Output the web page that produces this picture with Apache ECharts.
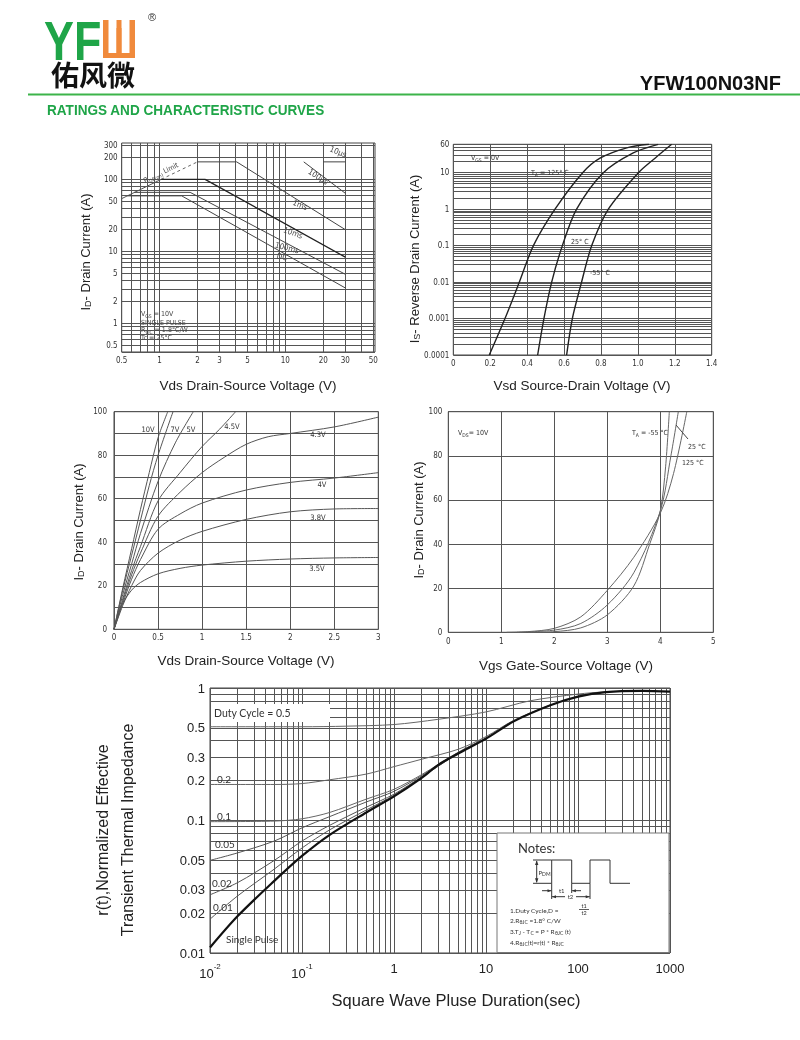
<!DOCTYPE html>
<html>
<head>
<meta charset="utf-8">
<title>YFW100N03NF Ratings and Characteristic Curves</title>
<script src="https://cdn.jsdelivr.net/npm/echarts@6/dist/echarts.min.js"></script>
<style>
html,body{margin:0;padding:0;background:#fff;}
#chart{width:800px;height:1040px;will-change:transform;}
</style>
</head>
<body>
<div id="chart"></div>
<script>
// ===== Chart 1: Safe operating area (Vds [V], Id [A]) =====
const soaXTicks = [0.5,0.6,0.7,0.8,0.9,1,2,3,4,5,6,7,8,9,10,20,30,40,50];
const soaXLabels = [0.5,1,2,3,5,10,20,30,50];
const soaYTicks = [0.4,0.5,0.6,0.7,0.8,0.9,1,2,3,4,5,6,7,8,9,10,20,30,40,50,60,70,80,90,100,200,300];
const soaYLabels = [0.5,1,2,5,10,20,50,100,200,300];
const soaRdsSolid = [[0.5,54],[1.03,100]];
const soaRdsDash  = [[1.03,100],[2,175]];
const soaDC    = [[0.555,59],[1.5,59],[30,3.1]];
const soa100ms = [[0.63,66],[1.75,66],[30,4.8]];
const soa10ms  = [[1.03,100],[2.3,100],[30,8.3]];
const soa1ms   = [[2,175],[4.1,175],[30,20]];
const soa100us = [[14,175],[30,64]];
const soa10us  = [[20,175],[30,175]];

// ===== Chart 2: Reverse drain current vs Vsd (V, A) =====
const isYTicks = [0.0001,0.0002,0.0003,0.0004,0.0005,0.0006,0.0007,0.0008,0.0009,
  0.001,0.002,0.003,0.004,0.005,0.006,0.007,0.008,0.009,
  0.01,0.02,0.03,0.04,0.05,0.06,0.07,0.08,0.09,
  0.1,0.2,0.3,0.4,0.5,0.6,0.7,0.8,0.9,
  1,2,3,4,5,6,7,8,9,10,20,30,40,50,60];
const isYLabels = [0.0001,0.001,0.01,0.1,1,10,60];
const is125 = [[0.195,0.0001],[0.28,0.001],[0.358,0.01],[0.434,0.1],[0.551,1],[0.701,10],[0.795,25],[0.94,48],[1.06,60]];
const is25  = [[0.457,0.0001],[0.491,0.001],[0.533,0.01],[0.591,0.1],[0.668,1],[0.813,10],[0.975,35],[1.11,60]];
const isM55 = [[0.614,0.0001],[0.645,0.001],[0.695,0.01],[0.75,0.1],[0.84,1],[1.003,10],[1.093,25],[1.183,60]];

// ===== Chart 3: Output characteristics (Vds V, Id A) per Vgs =====
const out10V  = [[0,0],[0.1,19],[0.2,37],[0.3,55],[0.4,72],[0.5,88],[0.61,100]];
const out7V   = [[0,0],[0.1,18],[0.2,34],[0.3,50],[0.4,66],[0.5,80],[0.67,100]];
const out5V   = [[0,0],[0.1,16],[0.2,30],[0.3,44],[0.5,68],[0.7,86],[0.9,100]];
const out45V  = [[0,0],[0.1,14],[0.2,27],[0.3,38],[0.5,59],[0.75,72],[1,84],[1.2,92],[1.38,100]];
const out43V  = [[0,0],[0.1,13],[0.2,25],[0.3,35],[0.5,52],[0.75,63],[1,72],[1.25,79],[1.5,85],[1.75,88.5],[2,90],[2.5,93],[3,97.5]];
const out4V   = [[0,0],[0.1,12],[0.2,23],[0.3,32],[0.5,46],[0.75,53],[1,58],[1.5,64],[2,67.5],[2.5,69.5],[3,72]];
const out38V  = [[0,0],[0.1,11],[0.2,20],[0.3,27],[0.5,35],[0.75,41],[1,45],[1.5,50.5],[2,54],[2.5,55.3],[3,55.5]];
const out35V  = [[0,0],[0.05,7],[0.1,12],[0.2,18],[0.3,21.5],[0.5,25.5],[0.75,28],[1,29.5],[1.5,31.3],[2,32.3],[2.5,32.8],[3,33]];

// ===== Chart 4: Transfer characteristics (Vgs V, Id A) =====
const tr125 = [[1.1,0],[1.5,0.3],[2,1.8],[2.5,7],[3,19],[3.5,34],[4,54],[4.25,72],[4.5,100]];
const tr25  = [[1.3,0],[2,1],[2.5,4],[3,12.4],[3.5,27],[4,55],[4.2,80],[4.34,100]];
const trM55 = [[1.5,0],[2,0.3],[2.5,2],[3,7.9],[3.5,21],[3.8,40],[4,55],[4.1,75],[4.17,100]];

// ===== Chart 5: Normalized transient thermal impedance (t sec, r(t)) =====
const thXTicks = [0.01,0.02,0.03,0.04,0.05,0.06,0.07,0.08,0.09,0.1,0.2,0.3,0.4,0.5,0.6,0.7,0.8,0.9,
  1,2,3,4,5,6,7,8,9,10,20,30,40,50,60,70,80,90,100,200,300,400,500,600,700,800,900,1000];
const thXLabels = [0.01,0.1,1,10,100,1000];
const thYTicks = [0.01,0.02,0.03,0.04,0.05,0.06,0.07,0.08,0.09,0.1,0.2,0.3,0.4,0.5,0.6,0.7,0.8,0.9,1];
const thYLabels = [0.01,0.02,0.03,0.05,0.1,0.2,0.3,0.5,1];
const zSingle = [[0.01,0.011],[0.02,0.019],[0.05,0.035],[0.1,0.054],[0.2,0.078],[0.5,0.115],[1,0.152],[2,0.21],[3,0.262],[5,0.32],[10,0.415],[20,0.56],[50,0.74],[100,0.86],[200,0.93],[500,0.95],[1000,0.94]];
const zD001 = [[0.01,0.018],[0.02,0.027],[0.05,0.043],[0.1,0.062],[0.2,0.085],[0.5,0.12],[1,0.155],[2,0.212],[5,0.321],[10,0.416]];
const zD002 = [[0.01,0.0275],[0.02,0.034],[0.05,0.05],[0.1,0.07],[0.2,0.092],[0.5,0.126],[1,0.158],[2,0.214],[5,0.322],[10,0.417]];
const zD005 = [[0.01,0.05],[0.02,0.057],[0.05,0.07],[0.1,0.088],[0.2,0.107],[0.5,0.138],[1,0.166],[2,0.218],[5,0.325],[10,0.419]];
const zD01  = [[0.01,0.098],[0.05,0.099],[0.1,0.103],[0.2,0.115],[0.5,0.145],[1,0.172],[2,0.222],[5,0.328],[10,0.42],[20,0.562]];
const zD02  = [[0.01,0.187],[0.05,0.187],[0.1,0.19],[0.2,0.203],[0.5,0.224],[1,0.255],[2,0.29],[5,0.345],[10,0.43],[20,0.57],[50,0.745]];
const zD05  = [[0.01,0.51],[0.1,0.51],[0.3,0.515],[1,0.53],[3,0.58],[10,0.66],[30,0.8],[100,0.9],[200,0.935],[500,0.95]];

// ===== rendering helpers =====
const L = Math.log10;
const FA = '"Liberation Sans", Arial, Helvetica, sans-serif';
const FN = '"Liberation Sans Narrow", "DejaVu Sans Condensed", "Liberation Sans", sans-serif';
const FC = 'Lato, "Open Sans", sans-serif';
const INK = '#222';
const GRIDC = '#555';

const fmtLog = v => String(parseFloat(Math.pow(10, v).toPrecision(3)));

function logAxis(gi, min, max, ticks, labels, label) {
  return {
    type: 'value', gridIndex: gi, min: L(min), max: L(max),
    axisLine: {show: false}, axisTick: {show: false, customValues: ticks.map(L)},
    splitLine: {show: true, lineStyle: {color: GRIDC, width: 1}},
    axisLabel: Object.assign({customValues: labels.map(L), formatter: fmtLog, color: '#333'}, label)
  };
}
function linAxis(gi, min, max, interval, label) {
  return {
    type: 'value', gridIndex: gi, min: min, max: max, interval: interval,
    axisLine: {show: false}, axisTick: {show: false},
    splitLine: {show: true, lineStyle: {color: GRIDC, width: 1}},
    axisLabel: Object.assign({color: '#333'}, label)
  };
}
function curve(gi, data, xLog, yLog, width, color, extra) {
  return Object.assign({
    type: 'line', xAxisIndex: gi, yAxisIndex: gi, symbol: 'none', silent: true, animation: false,
    data: data.map(p => [xLog ? L(p[0]) : p[0], yLog ? L(p[1]) : p[1]]),
    lineStyle: {color: color || '#333', width: width || 1}
  }, extra || {});
}
const SM = {smooth: 0.3};

function T(x, y, text, size, fam, opt) {
  opt = opt || {};
  const fill = opt.fill || INK;
  const w = opt.weight || 'normal';
  const ss = Math.max(5, Math.round(size * 0.68));
  const rich = {
    d: {fontSize: ss, fontFamily: fam, fontWeight: w, fill: fill, verticalAlign: 'bottom', lineHeight: ss},
    u: {fontSize: ss, fontFamily: fam, fontWeight: w, fill: fill, verticalAlign: 'top', lineHeight: ss}
  };
  return {
    type: 'text', x: x, y: y, rotation: (opt.rot || 0) * Math.PI / 180, z: opt.z || 60, silent: true,
    scaleX: opt.sx || 1, scaleY: opt.sy || 1,
    style: {
      text: text, font: w + ' ' + size + 'px ' + fam, fill: fill, textFill: fill,
      align: opt.align || 'left', textAlign: opt.align || 'left',
      verticalAlign: 'middle', textVerticalAlign: 'middle', lineHeight: size + 2, rich: rich
    }
  };
}
function R(x, y, w, h, fill, stroke, z) {
  return {type: 'rect', z: z || 50, silent: true, shape: {x: x, y: y, width: w, height: h},
    style: {fill: fill, stroke: stroke || null, lineWidth: 1}};
}
function Ln(x1, y1, x2, y2, color, width, z) {
  return {type: 'line', z: z || 61, silent: true, shape: {x1: x1, y1: y1, x2: x2, y2: y2},
    style: {stroke: color || '#333', lineWidth: width || 1}};
}
function Tri(points, z) {
  return {type: 'polygon', z: z || 61, silent: true, shape: {points: points}, style: {fill: '#333'}};
}

const gridBase = {show: true, borderColor: '#444', borderWidth: 1, backgroundColor: 'transparent', containLabel: false, outerBoundsMode: 'none'};
const grids = [
  {left: 121.7, top: 143, width: 253.3, height: 209},
  {left: 453.3, top: 144.3, width: 258.4, height: 210.7},
  {left: 114, top: 411.7, width: 264.3, height: 217.6},
  {left: 448.3, top: 411.7, width: 265, height: 220.6},
  {left: 210, top: 688, width: 460, height: 265}
].map(g => Object.assign({}, gridBase, g));

const small = {fontSize: 8, fontFamily: FN};
const xAxes = [
  logAxis(0, 0.5, 51.6, soaXTicks, soaXLabels, Object.assign({margin: 4}, small)),
  linAxis(1, 0, 1.4, 0.2, Object.assign({margin: 4, formatter: v => v === 0 ? '0' : v.toFixed(1)}, small)),
  linAxis(2, 0, 3, 0.5, Object.assign({margin: 4}, small)),
  linAxis(3, 0, 5, 1, Object.assign({margin: 5}, small)),
  logAxis(4, 0.01, 1000, thXTicks, thXLabels, {
    margin: 9, fontSize: 13, fontFamily: FA, color: '#222',
    formatter: v => v < -0.5 ? '{b|10}{s|' + Math.round(v) + '}' : String(Math.round(Math.pow(10, v))),
    rich: {b: {fontSize: 13, fontFamily: FA, color: '#222', lineHeight: 18, verticalAlign: 'bottom'},
           s: {fontSize: 8, fontFamily: FA, color: '#222', lineHeight: 9, verticalAlign: 'top'}}
  })
];
const yAxes = [
  logAxis(0, 0.4, 320, soaYTicks, soaYLabels, Object.assign({margin: 4}, small)),
  logAxis(1, 0.0001, 60, isYTicks, isYLabels, Object.assign({margin: 4}, small)),
  linAxis(2, 0, 100, 10, Object.assign({margin: 7, formatter: v => (Math.round(v) % 20 === 0 ? String(v) : '')}, small)),
  linAxis(3, 0, 100, 20, Object.assign({margin: 6}, small)),
  logAxis(4, 0.01, 1, thYTicks, thYLabels, {margin: 5, fontSize: 13, fontFamily: FA, color: '#222'})
];

const series = [
  // chart 1
  curve(0, soaRdsSolid, true, true, 1, '#555'),
  curve(0, soaRdsDash, true, true, 1, '#666', {lineStyle: {color: '#666', width: 1, type: [3, 3]}}),
  curve(0, soaDC, true, true, 1, '#444'),
  curve(0, soa100ms, true, true, 1, '#444'),
  curve(0, soa10ms, true, true, 1.3, '#222'),
  curve(0, soa1ms, true, true, 1, '#444'),
  curve(0, soa100us, true, true, 1, '#444'),
  curve(0, soa10us, true, true, 1, '#444'),
  // chart 2
  curve(1, is125, false, true, 1.4, '#222', SM),
  curve(1, is25, false, true, 1.4, '#222', SM),
  curve(1, isM55, false, true, 1.4, '#222', SM),
  // chart 3
  curve(2, out10V, false, false, 1, '#555', SM),
  curve(2, out7V, false, false, 1, '#555', SM),
  curve(2, out5V, false, false, 1, '#555', SM),
  curve(2, out45V, false, false, 1, '#555', SM),
  curve(2, out43V, false, false, 1, '#555', SM),
  curve(2, out4V, false, false, 1, '#555', SM),
  curve(2, out38V, false, false, 1, '#555', SM),
  curve(2, out35V, false, false, 1, '#555', SM),
  // chart 4
  curve(3, tr125, false, false, 1, '#666', SM),
  curve(3, tr25, false, false, 1, '#666', SM),
  curve(3, trM55, false, false, 1, '#666', SM),
  // chart 5
  curve(4, zD05, true, true, 1, '#666', SM),
  curve(4, zD02, true, true, 1, '#666', SM),
  curve(4, zD01, true, true, 1, '#666', SM),
  curve(4, zD005, true, true, 1, '#555', SM),
  curve(4, zD002, true, true, 1, '#555', SM),
  curve(4, zD001, true, true, 1, '#555', SM),
  curve(4, zSingle, true, true, 2.2, '#111', SM)
];

const green = '#1fa548';
const graphics = [
  // ---- header ----
  T(44, 41, 'YF', 56, FA, {weight: 'bold', fill: green, sx: 0.8}),
  R(103, 20, 32, 38, '#f08a3c', null, 55),
  R(108.5, 20, 8, 33, '#fff', null, 56),
  R(121.5, 20, 8, 33, '#fff', null, 56),
  R(116.5, 28, 5, 25, '#f08a3c', null, 57),
  T(148, 17, '®', 11, FA, {fill: '#333'}),
  T(93, 74, '佑风微', 28, '"Noto Sans CJK SC", sans-serif', {weight: 'bold', fill: '#111', align: 'center'}),
  T(781, 83, 'YFW100N03NF', 20, FA, {weight: 'bold', fill: '#111', align: 'right'}),
  Ln(28, 94.5, 800, 94.5, '#3cb44a', 2, 60),
  T(47, 110, 'RATINGS AND CHARACTERISTIC CURVES', 14, FA, {weight: 'bold', fill: green, sx: 0.97}),

  // ---- chart 1 texts ----
  T(85, 252, 'I{d|D}- Drain Current (A)', 13, FA, {rot: 90, align: 'center'}),
  T(248, 385, 'Vds Drain-Source Voltage (V)', 13.5, FA, {align: 'center'}),
  T(161, 173, 'R{d|DS(on)} Limit', 7, FN, {rot: 26, align: 'center', fill: '#444'}),
  T(338, 152, '10μs', 8, FN, {rot: -22, align: 'center', fill: '#444'}),
  T(318, 177, '100μs', 8, FN, {rot: -33, align: 'center', fill: '#444'}),
  T(300, 205, '1ms', 8, FN, {rot: -22, align: 'center', fill: '#444'}),
  T(293, 233, '10ms', 8, FN, {rot: -20, align: 'center', fill: '#444'}),
  T(287, 248, '100ms', 8, FN, {rot: -15, align: 'center', fill: '#444'}),
  T(282, 257, 'DC', 8, FN, {rot: -12, align: 'center', fill: '#444'}),
  T(141, 314, 'V{d|GS} = 10V', 7, FN, {fill: '#444'}),
  T(141, 322.5, 'SINGLE PULSE', 7, FN, {fill: '#444'}),
  T(141, 330, 'R{d|θJC} = 1.8°C/W', 7, FN, {fill: '#444'}),
  T(141, 337.5, 'Tc = 25°C', 7, FN, {fill: '#444'}),

  // ---- chart 2 texts ----
  T(414, 259, 'I{d|S}- Reverse Drain Current (A)', 13, FA, {rot: 90, align: 'center'}),
  T(582, 385, 'Vsd Source-Drain Voltage (V)', 13.5, FA, {align: 'center'}),
  T(471, 158, 'V{d|GS} = 0V', 7, FN, {fill: '#333'}),
  T(531, 173, 'T{d|A} = 125° C', 7, FN, {fill: '#333'}),
  T(571, 242, '25° C', 7, FN, {fill: '#333'}),
  T(590, 273, '-55° C', 7, FN, {fill: '#333'}),

  // ---- chart 3 texts ----
  T(78, 522, 'I{d|D}- Drain Current (A)', 13, FA, {rot: 90, align: 'center'}),
  T(246, 660, 'Vds Drain-Source Voltage (V)', 13.5, FA, {align: 'center'}),
  T(148, 429, '10V', 7.5, FN, {align: 'center', fill: '#333'}),
  T(175, 429, '7V', 7.5, FN, {align: 'center', fill: '#333'}),
  T(191, 429, '5V', 7.5, FN, {align: 'center', fill: '#333'}),
  T(232, 426, '4.5V', 7.5, FN, {align: 'center', fill: '#333'}),
  T(318, 434, '4.3V', 7.5, FN, {align: 'center', fill: '#333'}),
  T(322, 484, '4V', 7.5, FN, {align: 'center', fill: '#333'}),
  T(318, 517, '3.8V', 7.5, FN, {align: 'center', fill: '#333'}),
  T(317, 568, '3.5V', 7.5, FN, {align: 'center', fill: '#333'}),

  // ---- chart 4 texts ----
  T(418, 520, 'I{d|D}- Drain Current (A)', 13, FA, {rot: 90, align: 'center'}),
  T(566, 665, 'Vgs Gate-Source Voltage (V)', 13.5, FA, {align: 'center'}),
  T(458, 433, 'V{d|DS}= 10V', 7, FN, {fill: '#333'}),
  T(632, 433, 'T{d|A} = -55 °C', 7, FN, {fill: '#333'}),
  Ln(676, 425, 688, 439, '#444', 1),
  T(688, 447, '25 °C', 7, FN, {fill: '#333'}),
  T(682, 463, '125 °C', 7, FN, {fill: '#333'}),

  // ---- chart 5 texts ----
  T(102, 830, 'r(t),Normalized Effective', 16, FA, {rot: 90, align: 'center'}),
  T(127, 830, 'Transient Thermal Impedance', 16, FA, {rot: 90, align: 'center'}),
  T(456, 1000, 'Square Wave Pluse Duration(sec)', 16.5, FA, {align: 'center'}),
  R(211, 704, 119, 18, '#fff', null, 50),
  T(214, 713, 'Duty Cycle = 0.5', 10.5, FC, {fill: '#333'}),
  T(217, 779, '0.2', 10, FC, {fill: '#333'}),
  T(217, 815.5, '0.1', 10, FC, {fill: '#333'}),
  T(215, 844, '0.05', 10, FC, {fill: '#333'}),
  T(212, 883, '0.02', 10, FC, {fill: '#333'}),
  T(213, 906.5, '0.01', 10, FC, {fill: '#333'}),
  T(226, 938.5, 'Single Pulse', 10, FC, {fill: '#333'}),

  // notes box
  R(497, 833, 172, 119.5, '#fff', '#777', 50),
  T(518, 848, 'Notes:', 13, FC, {fill: '#333'}),
  Ln(533, 860, 551.7, 860, '#333', 1),
  Ln(533, 883.3, 551.7, 883.3, '#333', 1),
  Ln(536.7, 861, 536.7, 882.3, '#333', 1),
  Tri([[536.7, 860.5], [535, 865], [538.4, 865]]),
  Tri([[536.7, 882.8], [535, 878.3], [538.4, 878.3]]),
  T(538.5, 872.5, 'P{d|DM}', 6, FC, {fill: '#333'}),
  {type: 'polyline', z: 61, silent: true,
   shape: {points: [[551.7, 883.3], [551.7, 860], [571.7, 860], [571.7, 883.3], [590, 883.3], [590, 860], [610, 860], [610, 883.3], [630, 883.3]]},
   style: {stroke: '#333', lineWidth: 1, fill: null}},
  Ln(551.7, 883.3, 551.7, 899, '#333', 1),
  Ln(571.7, 883.3, 571.7, 893, '#333', 1),
  Ln(590, 883.3, 590, 899, '#333', 1),
  Ln(542, 890.7, 551.2, 890.7, '#333', 1),
  Tri([[551.5, 890.7], [547.5, 889.2], [547.5, 892.2]]),
  Ln(572.2, 890.7, 581, 890.7, '#333', 1),
  Tri([[571.9, 890.7], [575.9, 889.2], [575.9, 892.2]]),
  T(561.7, 890.7, 't1', 6, FC, {align: 'center', fill: '#333'}),
  Ln(552, 896.7, 565, 896.7, '#333', 1),
  Tri([[552, 896.7], [556, 895.2], [556, 898.2]]),
  Ln(576, 896.7, 589.7, 896.7, '#333', 1),
  Tri([[589.7, 896.7], [585.7, 895.2], [585.7, 898.2]]),
  T(570.5, 896.7, 't2', 6, FC, {align: 'center', fill: '#333'}),
  T(510, 910, '1.Duty Cycle,D =', 6.5, FC, {fill: '#333'}),
  T(584, 906.3, 't1', 5.5, FC, {align: 'center', fill: '#333'}),
  Ln(579, 909.5, 589, 909.5, '#333', 0.8),
  T(584, 912.5, 't2', 5.5, FC, {align: 'center', fill: '#333'}),
  T(510, 920.7, '2.R{d|θJC} =1.8° C/W', 6.5, FC, {fill: '#333'}),
  T(510, 931.7, '3.T{d|J} - T{d|C} = P * R{d|θJC} (t)', 6.5, FC, {fill: '#333'}),
  T(510, 942.7, '4.R{d|θJC}(t)=r(t) * R{d|θJC}', 6.5, FC, {fill: '#333'})
];

const chart = echarts.init(document.getElementById('chart'), null, {renderer: 'svg', width: 800, height: 1040});
chart.setOption({
  backgroundColor: '#fff',
  animation: false,
  grid: grids,
  xAxis: xAxes,
  yAxis: yAxes,
  series: series,
  graphic: {elements: graphics}
});
</script>
</body>
</html>
